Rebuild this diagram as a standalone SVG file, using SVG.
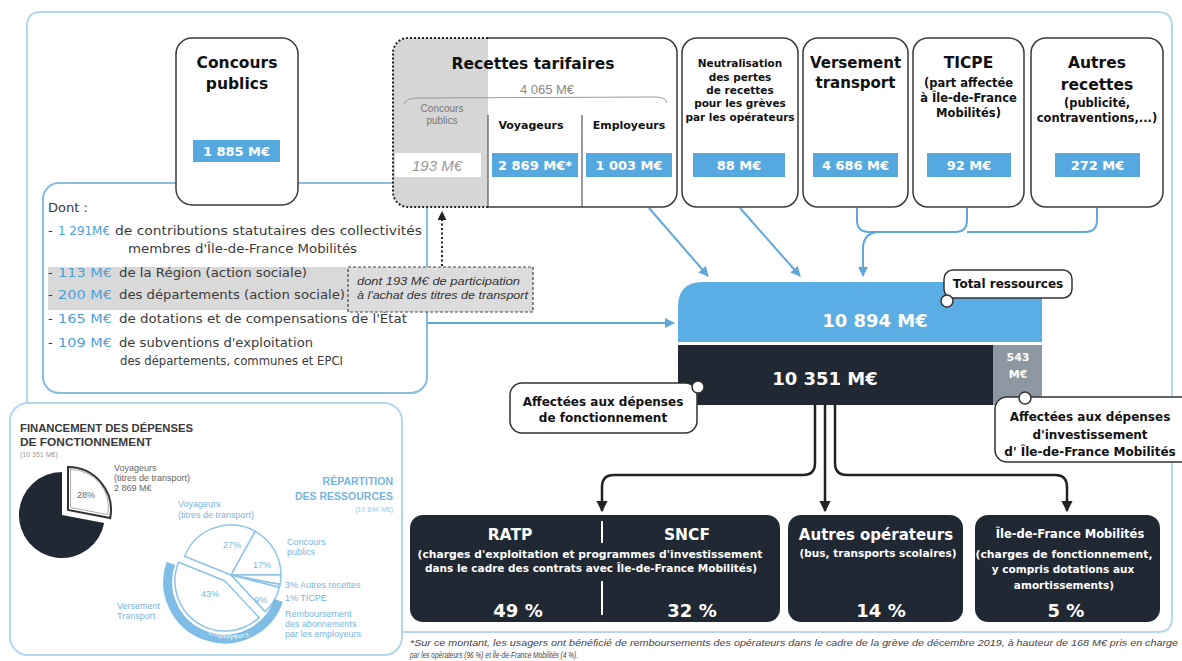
<svg xmlns="http://www.w3.org/2000/svg" width="1182" height="661" viewBox="0 0 1182 661">
<defs>
<style>
.box{fill:#fff;stroke:#3a3a3a;stroke-width:1.5}
.h{font-family:"DejaVu Sans",sans-serif;font-weight:bold;fill:#111;text-anchor:middle}
.badge{fill:#56a9df}
.bv{font-family:"DejaVu Sans",sans-serif;font-weight:bold;fill:#fff;text-anchor:middle;font-size:13px}
.body{font-family:"DejaVu Sans",sans-serif;font-size:13px;fill:#3a3a3a}
.num{fill:#4aa0da}
.blue{fill:none;stroke:#5fa8d9;stroke-width:2}
.blk{fill:none;stroke:#222;stroke-width:2.5}
.dark{fill:#1f2833}
.w{font-family:"DejaVu Sans",sans-serif;font-weight:bold;fill:#fff;text-anchor:middle}
.call{fill:#fff;stroke:#333;stroke-width:1.5}
.ct{font-family:"DejaVu Sans",sans-serif;font-weight:bold;font-size:12px;fill:#111;text-anchor:middle}
.dot{fill:#fff;stroke:#333;stroke-width:1.5}
.sm{font-family:"Liberation Sans",sans-serif;font-size:9px}
.g{fill:#666}
.lb{fill:#78b6e0}
.slice{fill:#fff;stroke:#8cc4e8;stroke-width:1.5}
</style>
<marker id="ab" viewBox="0 0 10 10" refX="9" refY="5" markerWidth="5" markerHeight="5" orient="auto"><path d="M0,0 L10,5 L0,10 z" fill="#5fa8d9"/></marker>
<marker id="ak" viewBox="0 0 10 10" refX="9" refY="5" markerWidth="4.5" markerHeight="4.5" orient="auto"><path d="M0,0 L10,5 L0,10 z" fill="#222"/></marker>
<marker id="ad" viewBox="0 0 10 10" refX="9" refY="5" markerWidth="4.5" markerHeight="4.5" orient="auto"><path d="M0,0 L10,5 L0,10 z" fill="#222"/></marker>
<path id="ringtxt" d="M182,610 A58,58 0 0 0 278,616"/>
</defs>
<rect width="1182" height="661" fill="#fff"/>

<g id="frame">
<path d="M27,402 V26 Q27,12 41,12 H1158 Q1172,12 1172,26 V618 Q1172,632 1158,632 H402" fill="none" stroke="#b5d7ee" stroke-width="2"/>
</g>

<g id="dont">
<rect x="43" y="183" width="384" height="210" rx="16" fill="none" stroke="#86bde3" stroke-width="2"/>
<rect x="48" y="267" width="300" height="43" fill="#d9d9d9"/>
<text class="body" x="48" y="212">Dont :</text>
<text class="body" x="48" y="235">-</text><text class="body num" x="58" y="235" textLength="52" lengthAdjust="spacingAndGlyphs">1 291M€</text>
<text class="body" x="115" y="235" textLength="307" lengthAdjust="spacingAndGlyphs">de contributions statutaires des collectivités</text>
<text class="body" x="128" y="253" textLength="229" lengthAdjust="spacingAndGlyphs">membres d'Île-de-France Mobilités</text>
<text class="body" x="48" y="277">-</text><text class="body num" x="58" y="277" textLength="54" lengthAdjust="spacingAndGlyphs">113 M€</text>
<text class="body" x="119" y="277" textLength="188" lengthAdjust="spacingAndGlyphs">de la Région (action sociale)</text>
<text class="body" x="48" y="299">-</text><text class="body num" x="58" y="299" textLength="54" lengthAdjust="spacingAndGlyphs">200 M€</text>
<text class="body" x="119" y="299" textLength="226" lengthAdjust="spacingAndGlyphs">des départements (action sociale)</text>
<text class="body" x="48" y="323">-</text><text class="body num" x="58" y="323" textLength="54" lengthAdjust="spacingAndGlyphs">165 M€</text>
<text class="body" x="119" y="323" textLength="288" lengthAdjust="spacingAndGlyphs">de dotations et de compensations de l'État</text>
<text class="body" x="48" y="347">-</text><text class="body num" x="58" y="347" textLength="54" lengthAdjust="spacingAndGlyphs">109 M€</text>
<text class="body" x="119" y="347" textLength="194" lengthAdjust="spacingAndGlyphs">de subventions d'exploitation</text>
<text class="body" x="120" y="365" textLength="223" lengthAdjust="spacingAndGlyphs">des départements, communes et EPCI</text>
</g>

<g id="participation">
<rect x="348" y="267" width="185" height="45" fill="#dcdcdc" stroke="#444" stroke-width="1.2" stroke-dasharray="3,2"/>
<text x="357" y="285" font-family="Liberation Sans, sans-serif" font-style="italic" font-size="10" fill="#333" textLength="163" lengthAdjust="spacingAndGlyphs">dont 193 M€ de participation</text>
<text x="357" y="299" font-family="Liberation Sans, sans-serif" font-style="italic" font-size="10" fill="#333" textLength="171" lengthAdjust="spacingAndGlyphs">à l'achat des titres de transport</text>
</g>

<g id="connectors">
<path class="blue" d="M649,208 L708,276" marker-end="url(#ab)"/>
<path class="blue" d="M740,208 L800,276" marker-end="url(#ab)"/>
<path class="blue" d="M857,208 V220 Q857,232 869,232 H955 Q967,232 967,220 V208"/>
<path class="blue" d="M967,232 H1085 Q1097,232 1097,220 V208"/>
<path class="blue" d="M880,232 Q863,232 863,249 V276" marker-end="url(#ab)"/>
<path class="blue" d="M427,323 H674" marker-end="url(#ab)"/>
<path d="M442,266 V212" fill="none" stroke="#222" stroke-width="2" stroke-dasharray="2,2.5" marker-end="url(#ad)"/>
<path class="blk" d="M815,405 V463 Q815,475 803,475 H614 Q602,475 602,487 V511" marker-end="url(#ak)"/>
<path class="blk" d="M825,405 V511" marker-end="url(#ak)"/>
<path class="blk" d="M835,405 V463 Q835,475 847,475 H1055 Q1067,475 1067,487 V511" marker-end="url(#ak)"/>
</g>

<g id="concours">
<rect class="box" x="176" y="38" width="122" height="167" rx="16"/>
<text class="h" x="237" y="68" font-size="15.5">Concours</text>
<text class="h" x="237" y="89" font-size="15.5">publics</text>
<rect class="badge" x="193" y="140" width="87" height="22"/>
<text class="bv" x="236.5" y="156" font-size="14">1 885 M€</text>
</g>

<g id="recettes">
<path d="M488,38 H408 A15,15 0 0 0 393,53 V192 A15,15 0 0 0 408,207 H488 Z" fill="#d6d6d6"/>
<path d="M488,38 H408 A15,15 0 0 0 393,53 V192 A15,15 0 0 0 408,207 H488" fill="none" stroke="#222" stroke-width="2" stroke-dasharray="2,2"/>
<path d="M488,38 H662 A15,15 0 0 1 677,53 V192 A15,15 0 0 1 662,207 H488" fill="none" stroke="#3a3a3a" stroke-width="1.5"/>
<text class="h" x="533" y="69" font-size="15.5">Recettes tarifaires</text>
<text x="547" y="94" font-family="Liberation Sans, sans-serif" font-size="13" fill="#8a8a8a" text-anchor="middle">4 065 M€</text>
<path d="M404,104 Q406,98 418,98 L655,97 Q666,97 667,103" fill="none" stroke="#999" stroke-width="1"/>
<line x1="488" y1="115" x2="488" y2="207" stroke="#555" stroke-width="1.2"/>
<line x1="582" y1="115" x2="582" y2="207" stroke="#555" stroke-width="1.2"/>
<text x="442" y="112" font-family="Liberation Sans, sans-serif" font-size="10" fill="#777" text-anchor="middle">Concours</text>
<text x="442" y="124" font-family="Liberation Sans, sans-serif" font-size="10" fill="#777" text-anchor="middle">publics</text>
<text class="h" x="531" y="129" font-size="11">Voyageurs</text>
<text class="h" x="629" y="129" font-size="11">Employeurs</text>
<rect x="395" y="153" width="86" height="24" fill="#fff"/>
<text x="437" y="171" font-family="Liberation Sans, sans-serif" font-style="italic" font-size="15" fill="#999" text-anchor="middle">193 M€</text>
<rect class="badge" x="492" y="153" width="86" height="24"/>
<text class="bv" x="535" y="170">2 869 M€*</text>
<rect class="badge" x="586" y="153" width="86" height="24"/>
<text class="bv" x="629" y="170">1 003 M€</text>
</g>

<g id="neutralisation">
<rect class="box" x="682" y="38" width="116" height="169" rx="15"/>
<text class="h" x="740" y="67" font-size="10.5">Neutralisation</text>
<text class="h" x="740" y="81" font-size="10.5">des pertes</text>
<text class="h" x="740" y="94" font-size="10.5">de recettes</text>
<text class="h" x="740" y="107" font-size="10.5">pour les grèves</text>
<text class="h" x="740" y="121" font-size="10.5">par les opérateurs</text>
<rect class="badge" x="693" y="153" width="92" height="24"/>
<text class="bv" x="739" y="170">88 M€</text>
</g>

<g id="versement">
<rect class="box" x="803" y="38" width="105" height="169" rx="15"/>
<text class="h" x="855.5" y="68" font-size="15">Versement</text>
<text class="h" x="855.5" y="88" font-size="15">transport</text>
<rect class="badge" x="813" y="153" width="85" height="24"/>
<text class="bv" x="855.5" y="170">4 686 M€</text>
</g>

<g id="ticpe">
<rect class="box" x="913" y="38" width="111" height="169" rx="15"/>
<text class="h" x="968.5" y="68" font-size="15.5">TICPE</text>
<text class="h" x="968.5" y="87" font-size="11.5">(part affectée</text>
<text class="h" x="968.5" y="102" font-size="11.5">à Île-de-France</text>
<text class="h" x="968.5" y="117" font-size="11.5">Mobilités)</text>
<rect class="badge" x="927" y="153" width="84" height="24"/>
<text class="bv" x="969" y="170">92 M€</text>
</g>

<g id="autres-recettes">
<rect class="box" x="1031" y="38" width="132" height="169" rx="15"/>
<text class="h" x="1097" y="68" font-size="15.5">Autres</text>
<text class="h" x="1097" y="90" font-size="15.5">recettes</text>
<text class="h" x="1097" y="107" font-size="11.5">(publicité,</text>
<text class="h" x="1097" y="122" font-size="11.5">contraventions,...)</text>
<rect class="badge" x="1055" y="153" width="85" height="24"/>
<text class="bv" x="1097.5" y="170">272 M€</text>
</g>

<g id="total">
<path d="M678,307 Q678,282 703,282 H1042 V342 H678 Z" fill="#5aaee3"/>
<rect class="dark" x="678" y="345" width="315" height="60"/>
<path d="M993,345 H1042 V393 Q1042,405 1030,405 H993 Z" fill="#8d98a2"/>
<text class="w" x="875" y="327" font-size="18">10 894 M€</text>
<text class="w" x="825" y="385" font-size="18">10 351 M€</text>
<text class="w" x="1018" y="361" font-size="11">543</text>
<text class="w" x="1018" y="378" font-size="11">M€</text>
</g>

<g id="callout-total">
<rect class="call" x="944" y="270" width="128" height="28" rx="9"/>
<text class="ct" x="1008" y="288" font-size="11.5">Total ressources</text>
<circle class="dot" cx="947" cy="301" r="6"/>
</g>

<g id="callout-fonctionnement">
<rect class="call" x="510" y="383" width="187" height="50" rx="12"/>
<text class="ct" x="603" y="406">Affectées aux dépenses</text>
<text class="ct" x="603" y="422">de fonctionnement</text>
<circle class="dot" cx="698" cy="387" r="6"/>
</g>

<g id="callout-investissement">
<rect class="call" x="995" y="397" width="200" height="65" rx="12"/>
<text class="ct" x="1090" y="421">Affectées aux dépenses</text>
<text class="ct" x="1090" y="439">d'investissement</text>
<text class="ct" x="1090" y="456">d' Île-de-France Mobilités</text>
<circle class="dot" cx="1025" cy="398" r="6"/>
</g>

<g id="ratp-sncf">
<rect class="dark" x="410" y="515" width="370" height="107" rx="13"/>
<text class="w" x="510" y="540" font-size="15.5">RATP</text>
<text class="w" x="687" y="540" font-size="15.5">SNCF</text>
<line x1="602" y1="521" x2="602" y2="543" stroke="#fff" stroke-width="2"/>
<line x1="602" y1="581" x2="602" y2="615" stroke="#fff" stroke-width="2"/>
<text class="w" x="590" y="558" font-size="10" textLength="345" lengthAdjust="spacingAndGlyphs">(charges d'exploitation et programmes d'investissement</text>
<text class="w" x="591" y="572" font-size="10" textLength="332" lengthAdjust="spacingAndGlyphs">dans le cadre des contrats avec Île-de-France Mobilités)</text>
<text class="w" x="518" y="617" font-size="18">49 %</text>
<text class="w" x="692" y="617" font-size="18">32 %</text>
</g>

<g id="autres-operateurs">
<rect class="dark" x="788" y="515" width="175" height="107" rx="13"/>
<text class="w" x="876" y="540" font-size="15">Autres opérateurs</text>
<text class="w" x="878" y="557" font-size="10" textLength="157" lengthAdjust="spacingAndGlyphs">(bus, transports scolaires)</text>
<text class="w" x="881" y="617" font-size="18">14 %</text>
</g>

<g id="idfm">
<rect class="dark" x="975" y="515" width="185" height="107" rx="13"/>
<text class="w" x="1070" y="538" font-size="11.5">Île-de-France Mobilités</text>
<text class="w" x="1064" y="558" font-size="10.5" textLength="177" lengthAdjust="spacingAndGlyphs">(charges de fonctionnement,</text>
<text class="w" x="1063" y="573" font-size="10.5">y compris dotations aux</text>
<text class="w" x="1064" y="589" font-size="10.5">amortissements)</text>
<text class="w" x="1066" y="617" font-size="18">5 %</text>
</g>

<g id="footnote" font-family="Liberation Sans, sans-serif" font-style="italic" font-size="8.5" fill="#444">
<text x="410" y="646" textLength="768" lengthAdjust="spacingAndGlyphs">*Sur ce montant, les usagers ont bénéficié de remboursements des opérateurs dans le cadre de la grève de décembre 2019, à hauteur de 168 M€ pris en charge</text>
<text x="410" y="658" textLength="168" lengthAdjust="spacingAndGlyphs">par les opérateurs (96 %) et Île-de-France Mobilités (4 %).</text>
</g>

<g id="pie-panel">
<rect x="10" y="403" width="392" height="252" rx="18" fill="#fff" stroke="#b5d7ee" stroke-width="2"/>
<text x="20" y="432" font-family="Liberation Sans, sans-serif" font-weight="bold" font-size="10.5" fill="#3a3a3a" textLength="173" lengthAdjust="spacingAndGlyphs">FINANCEMENT DES DÉPENSES</text>
<text x="20" y="446" font-family="Liberation Sans, sans-serif" font-weight="bold" font-size="10.5" fill="#3a3a3a" textLength="132" lengthAdjust="spacingAndGlyphs">DE FONCTIONNEMENT</text>
<text x="20" y="457" font-family="Liberation Sans, sans-serif" font-size="7" fill="#999">(10 351 M€)</text>
<path d="M62,515 L104.2,523 A43,43 0 1 1 62,472 Z" fill="#1f2833"/>
<path d="M68,510 L68,467 A43,43 0 0 1 110.2,518 Z" fill="#fff" stroke="#333" stroke-width="2"/>
<path d="M70.5,507.5 L70.5,469.5 A38,38 0 0 1 107.8,514.6 Z" fill="none" stroke="#999" stroke-width="0.8"/>
<text class="sm g" x="86" y="498" text-anchor="middle">28%</text>
<text class="sm g" x="114" y="471">Voyageurs</text>
<text class="sm g" x="114" y="481">(titres de transport)</text>
<text class="sm g" x="114" y="491">2 869 M€</text>

<text x="393" y="485" font-family="Liberation Sans, sans-serif" font-weight="bold" font-size="10.5" fill="#78b6e0" text-anchor="end">RÉPARTITION</text>
<text x="393" y="500" font-family="Liberation Sans, sans-serif" font-weight="bold" font-size="10.5" fill="#78b6e0" text-anchor="end">DES RESSOURCES</text>
<text x="393" y="512" font-family="Liberation Sans, sans-serif" font-size="7" fill="#9cc8e8" text-anchor="end">(10 894 M€)</text>
<text class="sm lb" x="178" y="507">Voyageurs</text>
<text class="sm lb" x="178" y="518">(titres de transport)</text>

<path class="slice" d="M231,575 L184.6,556.3 A50,50 0 0 1 255.2,531.3 Z"/>
<path class="slice" d="M231,575 L255.2,531.3 A50,50 0 0 1 281,575 Z"/>
<path class="slice" d="M231,575 L281,575 A50,50 0 0 1 280.1,584.4 Z"/>
<path class="slice" d="M231,575 L280.1,584.4 A50,50 0 0 1 279.4,587.4 Z"/>
<path class="slice" d="M231,575 L279.4,587.4 A50,50 0 0 1 265.1,611.6 Z"/>
<path class="slice" d="M225,581 L259.1,617.6 A50,50 0 0 1 178.6,562.3 Z"/>
<path d="M278.6,600.5 A57,57 0 0 1 170.8,563.4" fill="none" stroke="#7fbce6" stroke-width="9"/>
<text font-family="Liberation Sans, sans-serif" font-size="7" fill="#fff" letter-spacing="0.5"><textPath href="#ringtxt" startOffset="50%" text-anchor="middle">Employeurs</textPath></text>
<text class="sm lb" x="232" y="548" text-anchor="middle">27%</text>
<text class="sm lb" x="262" y="568" text-anchor="middle">17%</text>
<text class="sm lb" x="261" y="603" text-anchor="middle">9%</text>
<text class="sm lb" x="210" y="597" text-anchor="middle">43%</text>
<text class="sm lb" x="287" y="545">Concours</text>
<text class="sm lb" x="287" y="555">publics</text>
<text class="sm lb" x="285" y="588">3% Autres recettes</text>
<text class="sm lb" x="285" y="601">1% TICPE</text>
<text class="sm lb" x="285" y="617">Remboursement</text>
<text class="sm lb" x="285" y="627">des abonnements</text>
<text class="sm lb" x="285" y="637">par les employeurs</text>
<text class="sm lb" x="117" y="609">Versement</text>
<text class="sm lb" x="117" y="619">Transport</text>
</g>
</svg>
